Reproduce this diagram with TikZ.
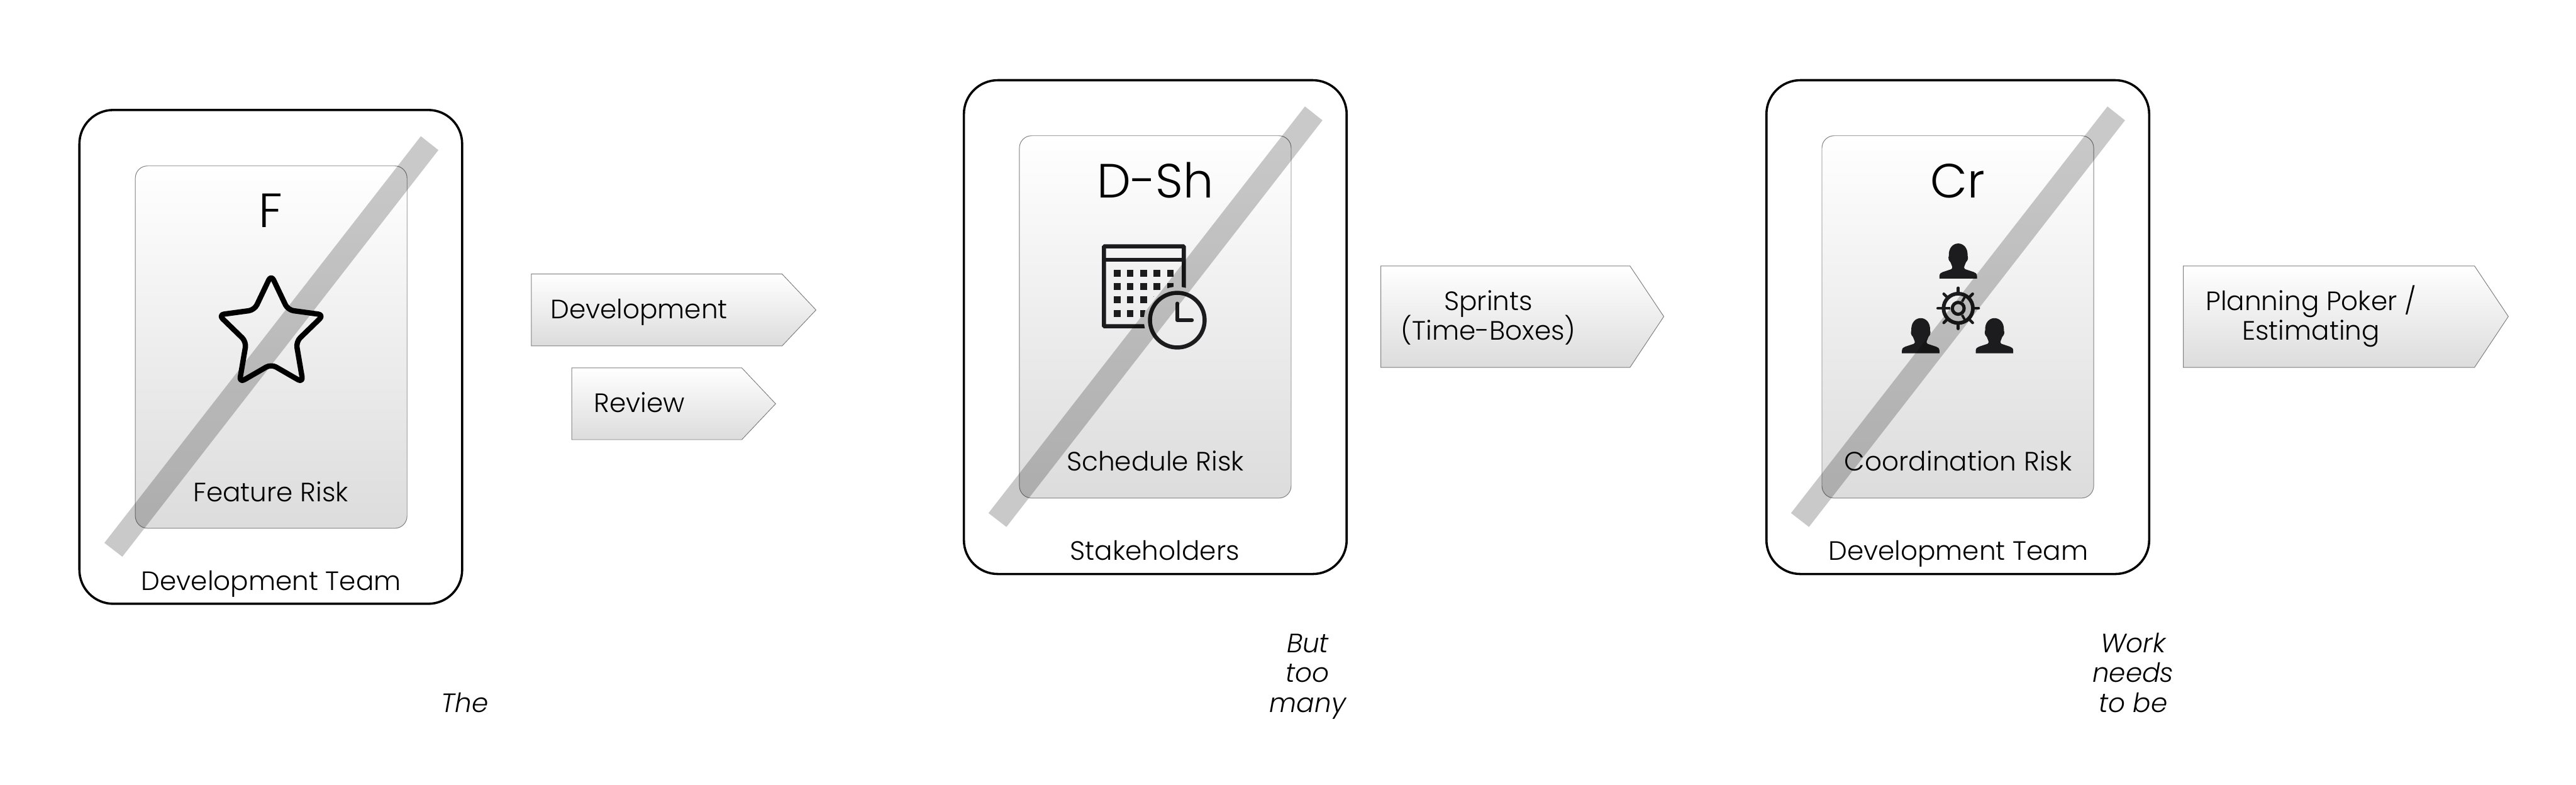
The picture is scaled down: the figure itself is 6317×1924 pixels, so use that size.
\documentclass[tikz,border=0pt]{standalone}
\usepackage{fontspec}
\setmainfont{Poppins}[UprightFont=* Light,ItalicFont=* Light Italic]
\usetikzlibrary{positioning,calc}
\definecolor{ink}{HTML}{1C1B1D}
\definecolor{edgegray}{HTML}{808080}
\definecolor{shadegray}{HTML}{DCDCDC}
\setlength{\lineskiplimit}{-1cm}
\newcommand{\bodyfont}{\fontsize{18.5}{20.77}\selectfont}
\newcommand{\titlefont}{\fontsize{33.5}{36}\selectfont}
\tikzset{
  teamcard/.style={draw=black,line width=.055cm,fill=white,rounded corners=.83cm,
                   minimum width=9.38cm,minimum height=12.1cm,inner sep=0pt},
  riskcard/.style={draw=edgegray,line width=.015cm,top color=white,bottom color=shadegray,
                   rounded corners=.3cm,minimum width=6.66cm,minimum height=8.88cm,inner sep=0pt},
  label/.style={anchor=base,inner sep=0pt,font=\bodyfont,text=black,align=center},
  bigtitle/.style={anchor=base,inner sep=0pt,font=\titlefont,text=black},
  remark/.style={label,font=\bodyfont\itshape},
  tagbox/.style={draw=edgegray,line width=.015cm,top color=white,bottom color=shadegray},
  slash/.style={fill=black,opacity=.21},
  iconline/.style={draw=ink,line width=.1cm},
  person/.pic={
    \fill[ink] (-46,0) -- (-46,-6) .. controls (-46,-12) and (-42,-15) .. (-38,-16)
      -- (-17,-23) .. controls (-14,-25) and (-14,-27) .. (-15,-30) -- (-19,-40)
      .. controls (-24,-45) and (-25,-50) .. (-23,-56)
      .. controls (-24,-76) and (-12,-86) .. (0,-86)
      .. controls (12,-86) and (24,-76) .. (23,-56)
      .. controls (25,-50) and (24,-45) .. (19,-40) -- (15,-30)
      .. controls (14,-27) and (14,-25) .. (17,-23) -- (38,-16)
      .. controls (42,-15) and (46,-12) .. (46,-6) -- (46,0) -- cycle;
  }
}
\begin{document}
\begin{tikzpicture}[x=.01cm,y=-.01cm]
\useasboundingbox (0,0) rectangle (6317,1924);

\node[teamcard] (teamF) at (664,875) {};
\node[riskcard] (riskF) at (665,851) {};
\node[bigtitle] (titleF) at (663,558) {F};
\node[label] (nameF) at (664,1230) {Feature Risk};
\node[label] (ownerF) at (665,1447) {Development Team};
\draw[draw=black,line width=.13cm,line join=round,rounded corners=.14cm]
  (665,674) -- (706,760) -- (794,772) -- (726,838) -- (743,938) -- (665,893)
  -- (587,938) -- (604,838) -- (536,772) -- (624,760) -- cycle;

\draw[tagbox] (1303,672) -- (1918,672) -- (2001,760) -- (1918,848) -- (1303,848) -- cycle;
\node[label] (tagDev) at (1567,781) {Development};
\draw[tagbox] (1402,902) -- (1819,902) -- (1902,990) -- (1819,1078) -- (1402,1078) -- cycle;
\node[label] (tagReview) at (1568,1011) {Review};
\node[remark] (noteF) at (1140,1747) {The};

\node[teamcard] (teamS) at (2833,802) {};
\node[riskcard] (riskS) at (2833,777) {};
\node[bigtitle] (titleS) at (2833,485) {D-Sh};
\node[label] (nameS) at (2833,1155) {Schedule Risk};
\node[label] (ownerS) at (2832,1374) {Stakeholders};
\begin{scope}[even odd rule]
  \clip (2680,580) rectangle (3000,880) (2887,785) circle (82);
  \draw[iconline,rounded corners=.02cm] (2707,604) rectangle (2903,800);
  \draw[iconline] (2707,637) -- (2903,637);
  \foreach \x in {2731,2763,2796,2829,2862}
    \foreach \y in {661,694,727,760}
      \fill[ink] (\x,\y) rectangle ++(16.5,17);
\end{scope}
\draw[iconline] (2887,785) circle (67);
\draw[iconline,line width=.09cm,line cap=round,line join=round]
  (2887,744) -- (2887,785) -- (2923,785);

\draw[tagbox] (3386,652) -- (3997,652) -- (4080,776) -- (3997,901) -- (3386,901) -- cycle;
\node[label] (tagSprints) at (3650,834) {Sprints\\(Time-Boxes)};
\node[remark] (noteS) at (3207,1746) {But\\too\\many};

\node[teamcard] (teamC) at (4801,802) {};
\node[riskcard] (riskC) at (4801,777) {};
\node[bigtitle] (titleC) at (4800,485) {Cr};
\node[label] (nameC) at (4802,1155) {Coordination Risk};
\node[label] (ownerC) at (4802,1374) {Development Team};
\pic at (4802,683) {person};
\pic at (4710,866) {person};
\pic at (4891,866) {person};
\draw[iconline,line width=.09cm] (4802,756) circle (36);
\draw[iconline,line width=.08cm] (4802,756) circle (14.5);
\foreach \a in {0,45,...,315}
  \draw[iconline,line width=.07cm,line cap=round] ($(4802,756)+(\a:36)$) -- ($(4802,756)+(\a:50)$);
\foreach \a in {60,180,300}
  \draw[iconline,line width=.06cm] ($(4802,756)+(\a:19)$) -- ($(4802,756)+(\a:36)$);

\draw[tagbox] (5354,652) -- (6068,652) -- (6151,776) -- (6068,901) -- (5354,901) -- cycle;
\node[label] (tagPoker) at (5667,834) {Planning Poker /\\Estimating};
\node[remark] (noteC) at (5231,1746) {Work\\needs\\to be};

\foreach \dx/\dy in {0/0,2168/-73,4136/-73}
  \fill[slash,shift={(\dx,\dy)}] (1032,334) -- (1075,368) -- (300,1365) -- (256,1331) -- cycle;
\end{tikzpicture}
\end{document}
